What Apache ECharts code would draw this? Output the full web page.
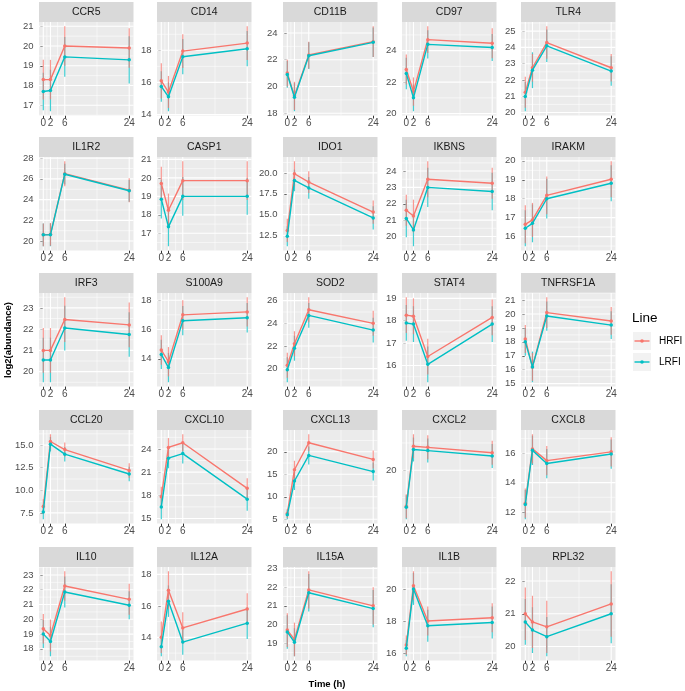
<!DOCTYPE html>
<html><head><meta charset="utf-8">
<script src="https://cdn.jsdelivr.net/npm/echarts@6/dist/echarts.min.js"></script>
<style>html,body{margin:0;padding:0;background:#fff}#c{width:685px;height:691px}</style>
</head><body><div id="c"></div>
<script>
const genes = ['CCR5','CD14','CD11B','CD97','TLR4',
  'IL1R2','CASP1','IDO1','IKBNS','IRAKM',
  'IRF3','S100A9','SOD2','STAT4','TNFRSF1A',
  'CCL20','CXCL10','CXCL13','CXCL2','CXCL8',
  'IL10','IL12A','IL15A','IL1B','RPL32'];
const times = [0, 2, 6, 24];
const xTicks = [0, 2, 6, 24];
const xMinor = [1, 4, 15];
const hrfi = [
  [18.3,18.3,20.0,19.9],[16.1,15.4,17.95,18.45],[21.0,19.3,22.35,23.35],[22.8,21.4,24.7,24.47],[21.25,22.75,24.3,22.75],
  [20.6,20.65,26.5,24.9],[19.7,18.25,19.85,19.85],[13.1,19.9,18.9,15.3],[21.6,21.25,23.5,23.25],[16.65,16.88,18.18,19.03],
  [21.0,21.0,22.45,22.2],[14.6,13.8,17.0,17.2],[20.3,22.2,25.2,24.0],[18.25,18.2,16.4,18.15],[18.2,16.2,20.1,19.5],
  [8.2,15.4,14.5,12.2],[17.8,24.2,24.8,18.9],[6.3,16.0,22.0,18.3],[16.7,22.2,22.1,21.6],[12.6,16.3,15.5,16.1],
  [19.36,18.9,22.25,21.35],[14.0,17.0,14.6,15.8],[19.7,19.2,21.85,21.0],[16.5,20.2,18.0,18.2],[21.0,20.75,20.6,21.3]
];
const hrfiErr = [
  [1.0,1.0,1.0,1.0],[1.1,1.0,1.05,1.05],[1.0,1.05,1.0,1.15],[0.95,0.9,0.85,0.95],[0.95,0.85,1.0,0.85],
  [1.1,1.1,1.2,1.15],[0.9,0.9,1.05,1.05],[1.4,1.5,1.3,1.4],[0.95,1.0,1.1,0.95],[1.0,0.9,1.0,0.95],
  [1.05,1.05,1.05,1.05],[1.0,1.0,1.0,1.0],[1.1,1.1,1.1,1.1],[0.8,0.8,0.8,0.8],[1.0,1.0,1.1,1.0],
  [0.8,0.8,0.8,0.8],[1.3,1.2,1.1,1.3],[1.0,2.0,1.9,2.0],[1.1,1.1,1.1,1.1],[1.0,1.0,1.0,1.0],
  [1.0,1.08,1.0,1.05],[1.0,1.2,1.0,1.0],[0.9,0.9,1.0,1.0],[0.6,0.9,0.9,0.9],[0.8,0.8,0.8,1.0]
];
const lrfi = [
  [17.7,17.75,19.45,19.3],[15.75,15.1,17.6,18.1],[20.9,19.2,22.3,23.3],[22.55,21.0,24.4,24.2],[20.98,22.6,24.1,22.55],
  [20.6,20.6,26.45,24.85],[18.85,17.35,19.0,19.0],[12.4,19.1,18.2,14.6],[21.1,20.4,23.0,22.75],[16.44,16.7,18.0,18.82],
  [20.55,20.55,22.05,21.75],[14.3,13.4,16.6,16.8],[19.9,21.8,24.7,23.4],[17.9,17.85,16.05,17.85],[18.0,16.2,19.85,19.2],
  [7.6,15.1,14.0,11.8],[16.5,22.8,23.4,17.5],[6.0,13.5,19.2,15.6],[16.6,21.9,21.8,21.3],[12.5,16.2,15.3,15.95],
  [19.0,18.5,21.85,20.95],[13.4,16.3,13.7,14.9],[19.6,19.05,21.7,20.85],[16.3,20.0,17.7,17.9],[20.75,20.5,20.3,21.0]
];
const lrfiErr = [
  [0.95,1.05,1.0,1.2],[0.95,0.9,1.1,1.1],[1.0,1.05,1.0,1.1],[1.0,0.85,0.9,0.85],[0.9,1.1,1.0,0.9],
  [1.1,1.1,1.0,1.05],[1.05,1.05,1.05,1.0],[1.2,1.3,1.3,1.4],[1.15,1.0,1.2,1.15],[0.95,1.0,1.05,0.95],
  [1.05,1.05,1.05,1.05],[1.0,1.0,1.0,1.0],[1.1,1.1,1.1,1.1],[0.8,0.8,0.8,0.8],[1.0,1.1,1.05,1.0],
  [0.8,0.8,0.8,0.8],[1.6,1.3,1.3,1.5],[1.0,2.0,2.0,2.0],[1.1,1.1,1.1,1.1],[1.0,1.0,1.0,1.0],
  [0.95,1.0,1.05,0.95],[0.6,1.0,0.8,1.0],[0.9,0.75,1.0,1.0],[0.5,1.0,1.0,1.0],[0.7,0.7,0.6,0.9]
];
const yStep = [1,2,2,2,1, 2,1,2.5,1,1, 1,2,2,1,1, 2.5,3,5,5,2, 1,2,1,2,1];
const seriesNames = ['HRFI','LRFI'];
const legendTitle = 'Line';
const xTitle = 'Time (h)';
const yTitle = 'log2(abundance)';

// ---- layout / style ----
const colLeft = [39, 157, 283, 402, 521];
const rowTop = [2, 137, 273, 410, 547];
const panelW = 94.5, stripH = 20, panelH = 93.5;
const RED = '#F8766D', CYAN = '#00BFC4';
const FONT = '"Liberation Sans", Arial, Helvetica, sans-serif';

function yRange(i){
  let lo = Infinity, hi = -Infinity;
  for (let k = 0; k < times.length; k++){
    lo = Math.min(lo, hrfi[i][k]-hrfiErr[i][k], lrfi[i][k]-lrfiErr[i][k]);
    hi = Math.max(hi, hrfi[i][k]+hrfiErr[i][k], lrfi[i][k]+lrfiErr[i][k]);
  }
  const p = (hi-lo)*0.05;
  return [lo-p, hi+p];
}
function majors(lo, hi, s){
  const out = [];
  for (let v = Math.ceil(lo/s - 1e-9)*s; v <= hi + 1e-9; v += s) out.push(+v.toFixed(6));
  return out;
}
function minors(lo, hi, s){
  const out = [];
  for (let v = Math.floor(lo/s)*s - s/2; v <= hi; v += s) if (v >= lo) out.push(+v.toFixed(6));
  return out;
}

const grids = [], xAxes = [], yAxes = [], series = [], graphics = [];
genes.forEach((g, i) => {
  const r = Math.floor(i/5), c = i % 5;
  const left = colLeft[c], top = rowTop[r] + stripH;
  const [lo, hi] = yRange(i);
  const step = yStep[i];
  const yt = majors(lo, hi, step);
  const ym = minors(lo, hi, step);
  const dec = (step % 1 !== 0) ? 1 : 0;
  grids.push({left, top, width: panelW, height: panelH, show: true, backgroundColor: '#EBEBEB', borderWidth: 0, containLabel: false});
  xAxes.push({type: 'value', gridIndex: i, min: -1.2, max: 25.2,
    axisLine: {show: false}, splitLine: {show: false},
    axisTick: {show: true, customValues: xTicks, length: 3, lineStyle: {color: '#333333', width: 1}},
    axisLabel: {show: true, customValues: xTicks, showMinLabel: true, showMaxLabel: true, fontSize: 10, color: '#4D4D4D', margin: 3, fontFamily: FONT, formatter: v => String(v)}});
  yAxes.push({type: 'value', gridIndex: i, min: lo, max: hi,
    axisLine: {show: false}, splitLine: {show: false},
    axisTick: {show: true, customValues: yt, length: 3, lineStyle: {color: '#333333', width: 1}},
    axisLabel: {show: false}});
  const gl = [];
  yt.forEach(v => gl.push([v, 0])); ym.forEach(v => gl.push([v, 1]));
  xTicks.forEach(v => gl.push([v, 2])); xMinor.forEach(v => gl.push([v, 3]));
  series.push({type: 'custom', xAxisIndex: i, yAxisIndex: i, silent: true, z: 1, animation: false,
    data: gl.map(d => ({value: d})), encode: {x: -1, y: -1},
    renderItem: (params, api) => {
      const v = api.value(0), kind = api.value(1);
      const cs = params.coordSys;
      if (kind < 2){
        const y = api.coord([0, v])[1];
        return {type: 'line', shape: {x1: cs.x, y1: y, x2: cs.x + cs.width, y2: y}, style: {stroke: '#FFFFFF', lineWidth: kind === 0 ? 1.1 : 0.55}};
      }
      const x = api.coord([v, lo])[0];
      return {type: 'line', shape: {x1: x, y1: cs.y, x2: x, y2: cs.y + cs.height}, style: {stroke: '#FFFFFF', lineWidth: kind === 2 ? 1.1 : 0.55}};
    }});
  series.push({type: 'custom', xAxisIndex: i, yAxisIndex: i, silent: true, z: 1, animation: false, clip: false,
    data: yt.map(v => ({value: [0, v]})), encode: {x: -1, y: -1},
    renderItem: (params, api) => {
      const v = api.value(1);
      const y = api.coord([0, v])[1];
      return {type: 'text', x: params.coordSys.x - 5.5, y: y,
        style: {text: v.toFixed(dec), fill: '#4D4D4D', font: '9.5px ' + FONT, textAlign: 'right', textVerticalAlign: 'middle'}};
    }});
  [[lrfi, lrfiErr, CYAN], [hrfi, hrfiErr, RED]].forEach(([m, e, col], si) => {
    series.push({type: 'custom', xAxisIndex: i, yAxisIndex: i, silent: true, z: 2 + si, animation: false,
      data: times.map((t, k) => [t, m[i][k]-e[i][k], m[i][k]+e[i][k]]),
      encode: {x: 0, y: [1, 2]},
      renderItem: (params, api) => {
        const p1 = api.coord([api.value(0), api.value(1)]);
        const p2 = api.coord([api.value(0), api.value(2)]);
        return {type: 'line', shape: {x1: p1[0], y1: p1[1], x2: p2[0], y2: p2[1]}, style: {stroke: col, lineWidth: 1.2, opacity: 0.75}};
      }});
  });
  [[hrfi, RED, 'HRFI'], [lrfi, CYAN, 'LRFI']].forEach(([m, col, name], si) => {
    series.push({type: 'line', name, xAxisIndex: i, yAxisIndex: i, z: 5 + si, animation: false,
      data: times.map((t, k) => [t, m[i][k]]),
      symbol: 'circle', symbolSize: 3.5, showSymbol: true,
      lineStyle: {color: col, width: 1.4}, itemStyle: {color: col}});
  });
  graphics.push({type: 'rect', left: left, top: rowTop[r], shape: {width: panelW, height: stripH}, style: {fill: '#D9D9D9'}, silent: true});
  graphics.push({type: 'text', x: left + panelW/2, y: rowTop[r] + stripH/2 + 0.5, style: {text: g, fill: '#1A1A1A', font: '10.5px ' + FONT, textAlign: 'center', textVerticalAlign: 'middle'}, silent: true});
});

graphics.push({type: 'text', x: 327, y: 684, style: {text: xTitle, fill: '#000', font: 'bold 9.5px ' + FONT, textAlign: 'center', textVerticalAlign: 'middle'}});
graphics.push({type: 'text', x: 8, y: 340, rotation: Math.PI/2, style: {text: yTitle, fill: '#000', font: 'bold 9.5px ' + FONT, textAlign: 'center', textVerticalAlign: 'middle'}});
graphics.push({type: 'text', x: 632, y: 318, style: {text: legendTitle, fill: '#000', font: '13.5px ' + FONT, textAlign: 'left', textVerticalAlign: 'middle'}});
[[RED, 341], [CYAN, 362]].forEach(([col, cy], k) => {
  graphics.push({type: 'rect', shape: {x: 633, y: cy - 9, width: 18, height: 18}, style: {fill: '#F2F2F2'}});
  graphics.push({type: 'line', shape: {x1: 634.5, y1: cy, x2: 649.5, y2: cy}, style: {stroke: col, lineWidth: 1.4}});
  graphics.push({type: 'circle', shape: {cx: 642, cy: cy, r: 1.8}, style: {fill: col}});
  graphics.push({type: 'text', x: 659, y: cy, style: {text: seriesNames[k], fill: '#000', font: '10px ' + FONT, textAlign: 'left', textVerticalAlign: 'middle'}});
});

const chart = echarts.init(document.getElementById('c'), null, {renderer: 'canvas'});
chart.setOption({animation: false, backgroundColor: '#FFFFFF', grid: grids, xAxis: xAxes, yAxis: yAxes, series, graphic: {elements: graphics}});
</script>
</body></html>
